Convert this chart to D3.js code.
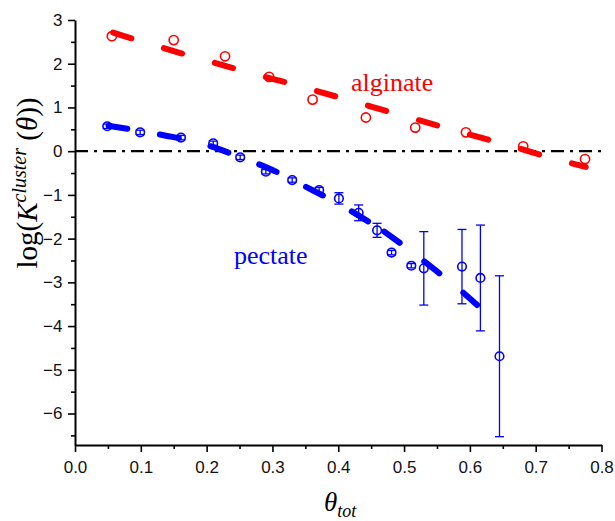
<!DOCTYPE html>
<html><head><meta charset="utf-8">
<script src="https://cdn.jsdelivr.net/npm/d3@7"></script>
<style>
html,body{margin:0;padding:0;background:#fff;}
svg{display:block;}
</style></head>
<body>
<svg id="c" width="615" height="521"></svg>
<script>
// ---- data ----
const algX = [0.056, 0.150, 0.228, 0.295, 0.361, 0.442, 0.517, 0.594, 0.681, 0.775];
const algY = [2.63, 2.54, 2.17, 1.70, 1.18, 0.77, 0.54, 0.43, 0.11, -0.18];

const pectX = [0.049, 0.099, 0.161, 0.210, 0.251, 0.290, 0.330, 0.371, 0.401, 0.431, 0.459, 0.481, 0.511, 0.530, 0.588, 0.616, 0.645];
const pectY = [0.57, 0.43, 0.31, 0.18, -0.14, -0.47, -0.66, -0.89, -1.08, -1.41, -1.81, -2.32, -2.62, -2.68, -2.64, -2.90, -4.69];
const pectErr = [0.05, 0.05, 0.05, 0.05, 0.05, 0.05, 0.05, 0.06, 0.13, 0.18, 0.16, 0.05, 0.05, 0.84, 0.85, 1.21, 1.84];

// fitted curves (two drawn pieces for pectate, as in the original)
const algFitX = [0.058, 0.15, 0.25, 0.35, 0.45, 0.55, 0.65, 0.75, 0.776];
const algFitY = [2.71, 2.29, 1.86, 1.45, 1.02, 0.59, 0.17, -0.26, -0.36];

const pectFitAX = [0.051, 0.10, 0.15, 0.20, 0.25, 0.30, 0.35, 0.40, 0.45];
const pectFitAY = [0.58, 0.46, 0.32, 0.14, -0.13, -0.43, -0.81, -1.20, -1.65];
const pectFitBX = [0.470, 0.50, 0.55, 0.60, 0.611];
const pectFitBY = [-1.84, -2.17, -2.75, -3.37, -3.52];

const xTicks = [0.0, 0.1, 0.2, 0.3, 0.4, 0.5, 0.6, 0.7, 0.8];
const yTicks = [-6, -5, -4, -3, -2, -1, 0, 1, 2, 3];

// ---- drawing ----
const svg = d3.select("#c");
const x = d3.scaleLinear().domain([0, 0.8]).range([75, 601.5]);
const y = d3.scaleLinear().domain([-6.72, 3]).range([445, 20]);

const RED = "#ff0000", BLUE = "#0000ff";

// zero reference line
svg.append("line")
  .attr("x1", x(0)).attr("x2", x(0.8))
  .attr("y1", y(0)).attr("y2", y(0))
  .attr("stroke", "#000").attr("stroke-width", 2.3)
  .attr("stroke-dasharray", "13 6 3 6");

// axes
const xMinor = d3.range(0.05, 0.8, 0.1);
const yMinor = d3.range(-6.5, 3, 1);

const gx = svg.append("g").attr("transform", `translate(0,${y(-6.72)})`);
gx.call(d3.axisBottom(x).tickValues(xTicks).tickFormat(d3.format(".1f")).tickSize(7).tickSizeOuter(0));
gx.append("g").call(d3.axisBottom(x).tickValues(xMinor).tickFormat("").tickSize(4).tickSizeOuter(0))
  .select(".domain").remove();

const gy = svg.append("g").attr("transform", `translate(${x(0)},0)`);
gy.call(d3.axisLeft(y).tickValues(yTicks).tickFormat(d3.format("d")).tickSize(7).tickSizeOuter(0));
gy.append("g").call(d3.axisLeft(y).tickValues(yMinor).tickFormat("").tickSize(4).tickSizeOuter(0))
  .select(".domain").remove();

svg.selectAll(".domain").attr("stroke", "#000").attr("stroke-width", 2);
svg.selectAll(".tick line").attr("stroke", "#000").attr("stroke-width", 1.6);
svg.selectAll(".tick text")
  .attr("font-family", "'Liberation Sans', Arial, sans-serif")
  .attr("font-size", 17).attr("fill", "#111");
gx.selectAll(".tick text").attr("dy", "1.05em");
gy.selectAll(".tick text").attr("dx", "-0.15em");

// fit lines
const line = d3.line().x(d => x(d[0])).y(d => y(d[1])).curve(d3.curveMonotoneX);
function fit(xs, ys, color, dash) {
  svg.append("path").datum(xs.map((v, i) => [v, ys[i]]))
    .attr("d", line).attr("fill", "none").attr("stroke", color)
    .attr("stroke-width", 6).attr("stroke-linecap", "round")
    .attr("stroke-dasharray", dash);
}
fit(algFitX, algFitY, RED, "19 34");
fit(pectFitAX, pectFitAY, BLUE, "19 33");
fit(pectFitBX, pectFitBY, BLUE, "19 31");

// pectate error bars
const pect = pectX.map((v, i) => ({x: v, y: pectY[i], e: pectErr[i]}));
const eb = svg.append("g").attr("stroke", BLUE).attr("stroke-width", 1.3);
eb.selectAll("line.v").data(pect).join("line")
  .attr("x1", d => x(d.x)).attr("x2", d => x(d.x))
  .attr("y1", d => y(d.y + d.e)).attr("y2", d => y(d.y - d.e));
eb.selectAll("line.t").data(pect).join("line")
  .attr("x1", d => x(d.x) - 4.5).attr("x2", d => x(d.x) + 4.5)
  .attr("y1", d => y(d.y + d.e)).attr("y2", d => y(d.y + d.e));
eb.selectAll("line.b").data(pect).join("line")
  .attr("x1", d => x(d.x) - 4.5).attr("x2", d => x(d.x) + 4.5)
  .attr("y1", d => y(d.y - d.e)).attr("y2", d => y(d.y - d.e));

// markers
svg.append("g").selectAll("circle").data(pect).join("circle")
  .attr("cx", d => x(d.x)).attr("cy", d => y(d.y)).attr("r", 4.3)
  .attr("fill", "none").attr("stroke", BLUE).attr("stroke-width", 1.6);
svg.append("g").selectAll("circle").data(algX.map((v, i) => [v, algY[i]])).join("circle")
  .attr("cx", d => x(d[0])).attr("cy", d => y(d[1])).attr("r", 4.6)
  .attr("fill", "none").attr("stroke", RED).attr("stroke-width", 1.6);

// annotations
const serif = "'Liberation Serif', 'Times New Roman', serif";
svg.append("text").attr("x", 351).attr("y", 91).attr("font-family", serif)
  .attr("font-size", 26).attr("fill", RED).text("alginate");
svg.append("text").attr("x", 234).attr("y", 264).attr("font-family", serif)
  .attr("font-size", 26).attr("fill", BLUE).text("pectate");

// y label
const yl = svg.append("text").attr("transform", "translate(37,183) rotate(-90)")
  .attr("text-anchor", "middle").attr("font-family", serif).attr("font-size", 29).attr("fill", "#000");
yl.append("tspan").text("log(");
yl.append("tspan").attr("font-style", "italic").text("K");
yl.append("tspan").attr("font-style", "italic").attr("font-size", 20).attr("dy", -11).text("cluster");
yl.append("tspan").attr("dy", 11).text(" (");
yl.append("tspan").attr("font-style", "italic").text("θ");
yl.append("tspan").text("))");

// x label
const xl = svg.append("text").attr("x", 324).attr("y", 511)
  .attr("font-family", serif).attr("font-size", 27).attr("font-style", "italic").attr("fill", "#000");
xl.append("tspan").text("θ");
xl.append("tspan").attr("font-size", 18).attr("dy", 6).text("tot");
</script>
</body></html>
